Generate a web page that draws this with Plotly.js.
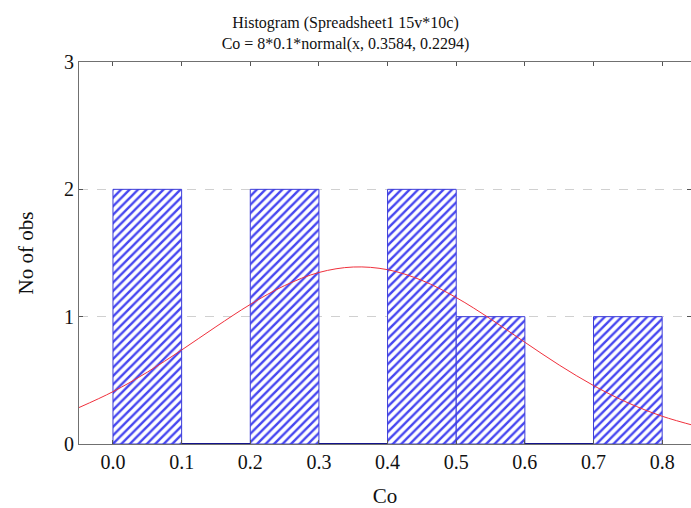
<!DOCTYPE html>
<html>
<head>
<meta charset="utf-8">
<script src="https://cdn.plot.ly/plotly-3.0.1.min.js"></script>
<style>html,body{margin:0;padding:0;background:#fff;}#chart{width:691px;height:508px;}</style>
</head>
<body>
<div id="chart"></div>
<script>
// Histogram bins (lower edge, upper edge) and counts
var binLo = [0.0, 0.1, 0.2, 0.3, 0.4, 0.5, 0.6, 0.7];
var binHi = [0.1, 0.2, 0.3, 0.4, 0.5, 0.6, 0.7, 0.8];
var counts = [2, 0, 2, 0, 2, 1, 0, 1];

// Fitted normal curve: Co = 8*0.1*normal(x, 0.3584, 0.2294)
var curveX = [-0.05, 0.0, 0.05, 0.1, 0.15, 0.2, 0.25, 0.3, 0.35, 0.4, 0.45, 0.5, 0.55, 0.6, 0.65, 0.7, 0.75, 0.8, 0.85];
var curveY = [0.285, 0.411, 0.564, 0.738, 0.921, 1.096, 1.244, 1.347, 1.390, 1.369, 1.285, 1.150, 0.982, 0.799, 0.620, 0.459, 0.324, 0.218, 0.140];

var xTicks = [0.0, 0.1, 0.2, 0.3, 0.4, 0.5, 0.6, 0.7, 0.8];
var xTickText = ['0.0', '0.1', '0.2', '0.3', '0.4', '0.5', '0.6', '0.7', '0.8'];
var yTicks = [0, 1, 2, 3];

var mids = [], widths = [];
for (var i = 0; i < binLo.length; i++) {
  mids.push((binLo[i] + binHi[i]) / 2);
  widths.push(binHi[i] - binLo[i]);
}

// empty bins shown as a dark line on the baseline
var zx = [], zy = [];
for (var j = 0; j < counts.length; j++) {
  if (counts[j] === 0) {
    zx.push(binLo[j], binHi[j], null);
    zy.push(0, 0, null);
  }
}

var serif = 'Liberation Serif, Times New Roman, serif';

var traces = [
  {
    type: 'bar',
    x: mids,
    y: counts,
    width: widths,
    marker: {
      color: '#ffffff',
      line: {color: '#3c3cd8', width: 1},
      pattern: {shape: '/', fgcolor: '#4646f0', bgcolor: '#ffffff', size: 6, solidity: 0.4}
    },
    hoverinfo: 'x+y'
  },
  {
    type: 'scatter',
    mode: 'lines',
    x: zx,
    y: zy,
    line: {color: '#14148c', width: 2},
    hoverinfo: 'skip'
  },
  {
    type: 'scatter',
    mode: 'lines',
    x: curveX,
    y: curveY,
    line: {color: '#f0303c', width: 1, shape: 'spline'},
    hoverinfo: 'skip'
  }
];

var layout = {
  width: 691,
  height: 508,
  margin: {l: 79, r: 0, t: 62, b: 64},
  paper_bgcolor: '#ffffff',
  plot_bgcolor: '#ffffff',
  showlegend: false,
  bargap: 0,
  title: {
    text: 'Histogram (Spreadsheet1 15v*10c)<br>Co = 8*0.1*normal(x, 0.3584, 0.2294)',
    font: {family: serif, size: 16, color: '#111'},
    x: 0.5,
    xref: 'container',
    y: 0.945,
    yref: 'container',
    yanchor: 'top'
  },
  xaxis: {
    range: [-0.0495, 0.842],
    tickvals: xTicks,
    ticktext: xTickText,
    ticks: 'inside',
    ticklen: 4,
    tickcolor: '#555',
    showline: true,
    linecolor: '#707070',
    linewidth: 1,
    mirror: 'ticks',
    showgrid: false,
    zeroline: false,
    tickfont: {family: serif, size: 20, color: '#111'},
    title: {text: 'Co', font: {family: serif, size: 21, color: '#111'}, standoff: 17}
  },
  yaxis: {
    range: [0, 3],
    tickvals: yTicks,
    ticks: 'inside',
    ticklen: 4,
    tickcolor: '#555',
    showline: true,
    linecolor: '#707070',
    linewidth: 1,
    mirror: 'ticks',
    showgrid: true,
    gridcolor: '#d0d0d0',
    griddash: 'dash',
    zeroline: false,
    tickfont: {family: serif, size: 20, color: '#111'},
    title: {text: 'No of obs', font: {family: serif, size: 21, color: '#111'}, standoff: 24}
  }
};

Plotly.newPlot('chart', traces, layout, {displayModeBar: false, staticPlot: true});
</script>
</body>
</html>
